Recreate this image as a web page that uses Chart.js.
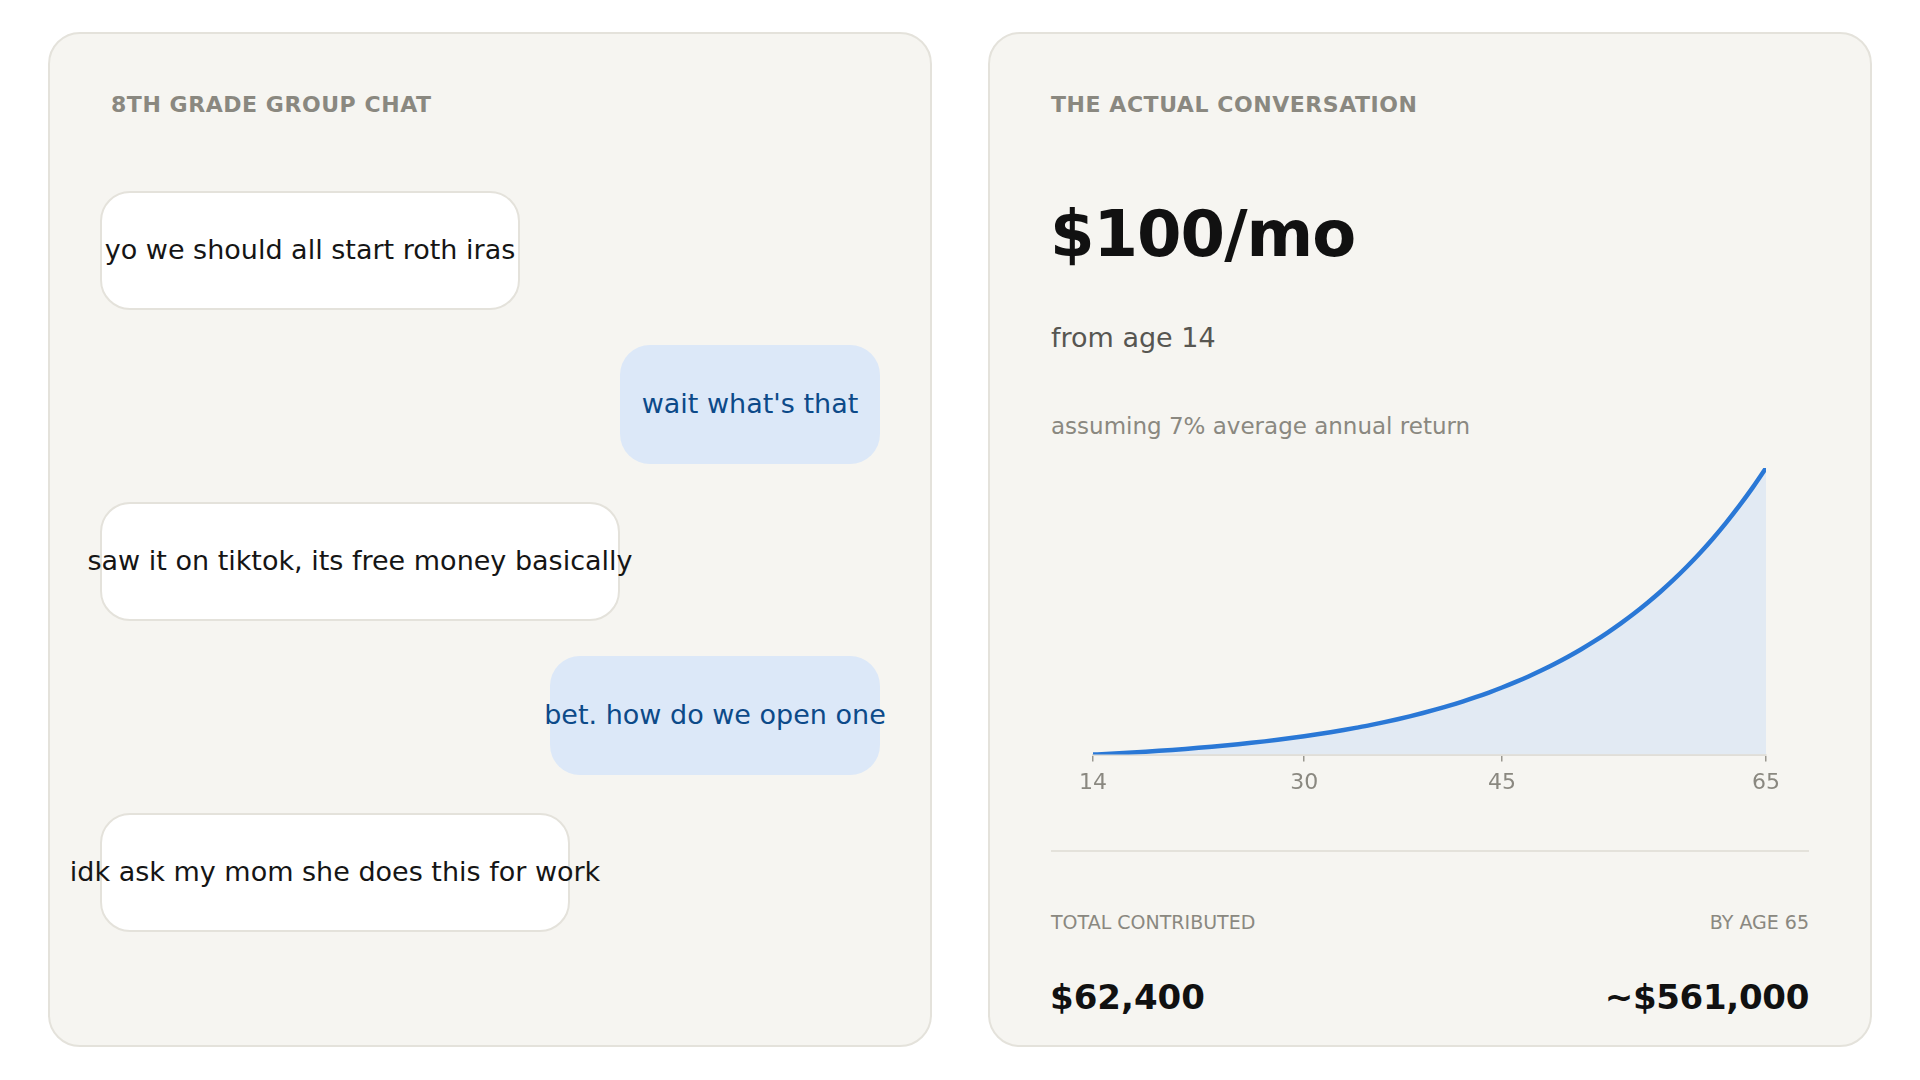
<!DOCTYPE html>
<html>
<head>
<meta charset="utf-8">
<script src="https://cdn.jsdelivr.net/npm/chart.js@4.4.1/dist/chart.umd.min.js"></script>
<style>
  html, body { margin: 0; padding: 0; background: #ffffff; }
  body { width: 1920px; height: 1080px; position: relative; overflow: hidden; font-family: "DejaVu Sans", sans-serif; }
  .card { position: absolute; top: 32px; width: 884px; height: 1015px; box-sizing: border-box;
          background: #f6f5f1; border: 2px solid #e4e2db; border-radius: 32px; }
  .abs { position: absolute; white-space: nowrap; line-height: 1; }
  .label { font-size: 22px; font-weight: bold; color: #8a8880; letter-spacing: 0.55px; }
  .bubble { position: absolute; height: 119px; box-sizing: border-box; border-radius: 30px;
            display: flex; align-items: center; justify-content: center; white-space: nowrap;
            font-size: 27px; padding-bottom: 2px; }
  .them { background: #ffffff; border: 2px solid #e4e2db; color: #151515; }
  .me { background: #dce8f8; color: #0c4a89; }
</style>
</head>
<body>
<div class="card" style="left:48px"></div>
<div class="card" style="left:988px"></div>

<div class="abs label" style="left:111px; top:94px">8TH GRADE GROUP CHAT</div>
<div id="chat"></div>

<div class="abs label" style="left:1051px; top:94px">THE ACTUAL CONVERSATION</div>
<div class="abs" style="left:1050px; top:202px; font-size:64px; font-weight:bold; color:#111111; letter-spacing:-1px">$100/mo</div>
<div class="abs" style="left:1051px; top:324px; font-size:27px; color:#575651">from age 14</div>
<div class="abs" style="left:1051px; top:415px; font-size:23px; color:#8a8880">assuming 7% average annual return</div>

<div style="position:absolute; left:1051px; top:440px; width:758px; height:364px">
  <canvas id="growth"></canvas>
</div>

<div style="position:absolute; left:1051px; top:850px; width:758px; height:2px; background:#e4e2db"></div>
<div class="abs" style="left:1051px; top:913px; font-size:19px; color:#8a8880">TOTAL CONTRIBUTED</div>
<div class="abs" style="right:111px; top:913px; font-size:19px; color:#8a8880">BY AGE 65</div>
<div class="abs" style="left:1050px; top:980px; font-size:34px; font-weight:bold; color:#111111">$62,400</div>
<div class="abs" style="right:111px; top:980px; font-size:34px; font-weight:bold; color:#111111; letter-spacing:-0.3px">~$561,000</div>

<script>
// Chat messages, in order
const messages = [
  "yo we should all start roth iras",
  "wait what's that",
  "saw it on tiktok, its free money basically",
  "bet. how do we open one",
  "idk ask my mom she does this for work",
];
const senders = ["them", "me", "them", "me", "them"];
const bubbleTops = [191, 345, 502, 656, 813];

// Growth of $100/mo, balance by age
const ages = [14, 15, 16, 17, 18, 19, 20, 21, 22, 23, 24, 25, 26, 27, 28, 29, 30, 31, 32, 33,
  34, 35, 36, 37, 38, 39, 40, 41, 42, 43, 44, 45, 46, 47, 48, 49, 50, 51, 52, 53, 54, 55,
  56, 57, 58, 59, 60, 61, 62, 63, 64, 65];
const balances = [0, 1300, 2700, 4100, 5700, 7400, 9200, 11100, 13200, 15400, 17800, 20300,
  23000, 25900, 29000, 32300, 35900, 39700, 43700, 48100, 52800, 57700, 63100, 68800, 74900,
  81400, 88400, 95800, 103800, 112400, 121500, 131300, 141800, 153000, 165000, 177900,
  191600, 206300, 222000, 238900, 256900, 276100, 296800, 318800, 342400, 367700, 394700,
  423600, 454600, 487700, 523100, 561000];
const tickAges = [14, 30, 45, 65];

// Build chat bubbles
const chat = document.getElementById("chat");
messages.forEach((text, i) => {
  const b = document.createElement("div");
  b.className = "bubble " + senders[i];
  const w = text.length * 10 + 100;
  b.style.width = w + "px";
  b.style.top = bubbleTops[i] + "px";
  b.style.left = (senders[i] === "me" ? 880 - w : 100) + "px";
  b.textContent = text;
  chat.appendChild(b);
});

const points = ages.map((a, i) => ({ x: a, y: balances[i] }));

new Chart(document.getElementById("growth"), {
  type: "line",
  data: {
    datasets: [
      {
        data: points,
        borderColor: "#2a78d6",
        borderWidth: 4.5,
        backgroundColor: "#e2eaf3",
        fill: "origin",
        pointRadius: 0,
        cubicInterpolationMode: "monotone",
      },
    ],
  },
  options: {
    responsive: true,
    maintainAspectRatio: false,
    animation: false,
    layout: { padding: { left: 42, right: 43, top: 28, bottom: 0 } },
    plugins: { legend: { display: false }, tooltip: { enabled: false } },
    scales: {
      x: {
        type: "linear",
        min: 14,
        max: 65,
        afterBuildTicks: (scale) => {
          scale.ticks = tickAges.map((v) => ({ value: v }));
        },
        grid: { drawOnChartArea: false, drawTicks: true, tickLength: 7, color: "#9a9890", lineWidth: 1.5 },
        border: { display: true, color: "#e0ded8", width: 2 },
        ticks: { color: "#8a8880", font: { family: "DejaVu Sans", size: 22 }, padding: 8, maxRotation: 0 },
      },
      y: {
        display: false,
        min: 0,
        max: Math.max(...balances),
      },
    },
  },
});
</script>
</body>
</html>
